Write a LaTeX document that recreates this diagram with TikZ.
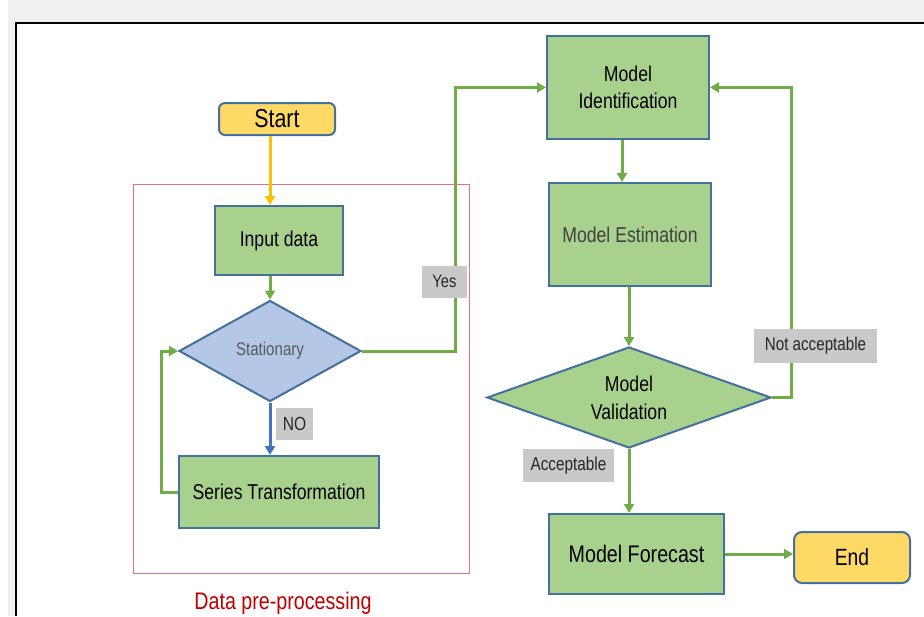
\documentclass[tikz,border=0pt]{standalone}
\usepackage{fontspec}
\setmainfont[FakeStretch=0.82]{Liberation Sans}
\usetikzlibrary{shapes.geometric, arrows.meta, calc}

\definecolor{boxgreen}{HTML}{A9D18E}
\definecolor{flowgreen}{HTML}{70AD47}
\definecolor{edgeblue}{HTML}{41719C}
\definecolor{termyellow}{HTML}{FFD966}
\definecolor{startorange}{HTML}{FFC000}
\definecolor{noblue}{HTML}{4472C4}
\definecolor{diamblue}{HTML}{B4C7E7}
\definecolor{taggray}{HTML}{C9C9C9}
\definecolor{framered}{HTML}{E57373}
\definecolor{titlered}{HTML}{C00000}
\definecolor{wingray}{HTML}{F0F0F0}

\tikzset{%
  process/.style={draw=edgeblue, line width=2pt, fill=boxgreen, align=center,
    inner sep=0pt, font=\fontsize{21.5}{27}\selectfont},
  terminal/.style={draw=edgeblue, line width=2pt, fill=termyellow,
    rounded corners=6pt, inner sep=0pt},
  decision/.style={shape=diamond, draw=edgeblue, line width=2pt, align=center,
    inner sep=0pt, font=\fontsize{21.5}{28}\selectfont},
  tag/.style={fill=taggray, inner sep=0pt, minimum height=32pt, text=black!85},
  flow/.style={draw=flowgreen, line width=3pt, ->},
}

\begin{document}
\begin{tikzpicture}[x=1pt, y=-1pt, >={Triangle[width=10pt,length=9pt]}]

\useasboundingbox (0,0) rectangle (924,616);
% window background
\fill[white] (0,0) rectangle (924,616);
\fill[wingray] (8,0) rectangle (924,616);
\fill[white] (16,23) rectangle (924,616);
\draw[line width=2pt] (16,616) -- (16,23) -- (924,23);

% pre-processing frame
\draw[framered, line width=0.8pt] (133,184) rectangle (469,573);
\node[font=\fontsize{24}{28}\selectfont, text=titlered] (prelabel) at (283,603) {Data pre-processing};

\node[terminal, minimum width=116pt, minimum height=32pt, font=\fontsize{26}{30}\selectfont] (start) at (277,119) {Start};
\node[process, minimum width=128pt, minimum height=69pt] (input) at (279,240.5) {Input data};
\node[decision, fill=diamblue, aspect=1.8, minimum width=182pt, minimum height=101pt,
  font=\fontsize{18.4}{22}\selectfont, text=black!65] (stat) at (270,351) {Stationary};
\node[process, minimum width=200pt, minimum height=72pt] (series) at (279,492) {Series Transformation};

\node[process, minimum width=162pt, minimum height=103pt] (ident) at (628,87.5) {Model\\Identification};
\node[process, minimum width=162pt, minimum height=103pt, text=black!75] (estim) at (630,234.5) {Model Estimation};
\node[decision, fill=boxgreen, aspect=2.8, minimum width=284pt, minimum height=101pt] (valid) at (629,397.5) {Model\\Validation};
\node[process, minimum width=175pt, minimum height=80pt, font=\fontsize{24}{28}\selectfont] (forecast) at (636.5,554) {Model Forecast};
\node[terminal, rounded corners=8pt, minimum width=116pt, minimum height=51pt, font=\fontsize{23.5}{28}\selectfont] (end) at (852,557.5) {End};

% bend columns for the loops
\coordinate (loopx) at (161,0);
\coordinate (yesx) at (455,0);
\coordinate (rejx) at (791,0);

\draw[startorange, line width=3pt, ->] (start.south -| stat.north) -- (input.north -| stat.north);
\draw[flow] (input.south -| stat.north) -- (stat.north);
\draw[noblue, line width=3pt, ->] (stat.south) -- (series.north -| stat.south);
\draw[flow] (series.west) -| (loopx |- stat.west) -- (stat.west);
\draw[flow] (stat.east) -| (yesx |- ident.west) -- (ident.west);

\draw[flow] ([xshift=-6pt]ident.south) -- ([xshift=-6pt]ident.south |- estim.north);
\draw[flow] (estim.south -| valid.north) -- (valid.north);
\draw[flow] (valid.south) -- (valid.south |- forecast.north);
\draw[flow] (valid.east) -| (rejx |- ident.east) -- (ident.east);
\draw[flow] (forecast.east) -- (forecast.east -| end.west);

% branch tags
\node[tag, minimum width=45pt, font=\fontsize{18}{22}\selectfont] (yes) at (444.5,281.5) {Yes};
\node[tag, minimum width=37pt, font=\fontsize{19}{22}\selectfont] (no) at (294.5,423.5) {NO};
\node[tag, minimum width=123pt, minimum height=34pt, font=\fontsize{18.5}{22}\selectfont] (rej) at (815.5,346) {Not acceptable};
\node[tag, minimum width=91pt, minimum height=33pt, font=\fontsize{18.7}{22}\selectfont] (acc) at (568.5,465.5) {Acceptable};

\end{tikzpicture}
\end{document}
